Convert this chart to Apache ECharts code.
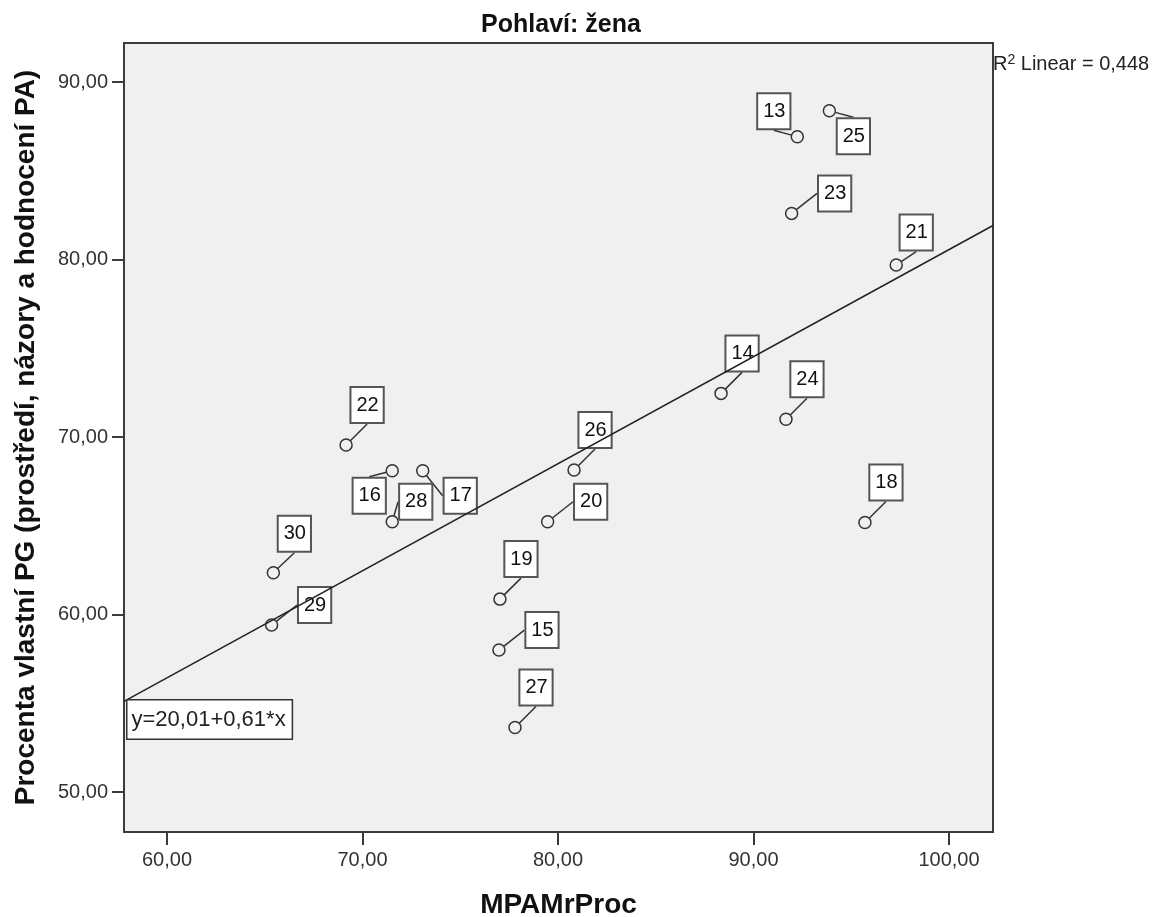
<!DOCTYPE html>
<html lang="cs">
<head>
    <meta charset="UTF-8">
    <title>Pohlaví: žena</title>
    <script src="https://cdn.jsdelivr.net/npm/echarts@6/dist/echarts.min.js"></script>
</head>
<body style="margin:0">
<div id="content" style="width:1172px;height:917px"></div>
<script>
    // case numbers shown in the boxes
    var caseIds = [13, 14, 15, 16, 17, 18, 19, 20, 21, 22, 23, 24, 25, 26, 27, 28, 29, 30];
    // MPAMrProc (x)
    var mpamProc = [92.24, 88.34, 76.98, 71.52, 73.08, 95.70, 77.03, 79.47, 97.30,
                    69.16, 91.95, 91.66, 93.88, 80.82, 77.80, 71.52, 65.35, 65.44];
    // Procenta vlastní PG (y)
    var pgProc = [86.92, 72.46, 58.00, 68.10, 68.10, 65.19, 60.87, 65.23, 79.69,
                  69.55, 82.60, 71.00, 88.38, 68.14, 53.64, 65.23, 59.41, 62.36];
    var xTicks = [60, 70, 80, 90, 100];
    var yTicks = [50, 60, 70, 80, 90];
    // fit line as drawn
    var fitA = 20.26, fitB = 0.603;
    var xMin = 57.8, xMax = 102.25, yMin = 47.75, yMax = 92.2;

    // where each case box sits relative to its point (px)
    var UR = [21, -40], RT = [43, -20];
    var labelShift = {
        13: [-23.5, -25.5], 14: UR, 15: RT, 16: [-23, 25], 17: [37.5, 25], 18: UR,
        19: UR, 20: RT, 21: [20, -32.5], 22: UR, 23: RT, 24: UR, 25: [24, 25.5],
        26: UR, 27: UR, 28: [23.5, -20], 29: RT, 30: [21, -39]
    };

    function fmt(v) { return v.toFixed(2).replace('.', ','); }

    var points = caseIds.map(function (id, i) {
        return { name: String(id), value: [mpamProc[i], pgProc[i]] };
    });
    var fitLine = [[xMin, fitA + fitB * xMin], [xMax, fitA + fitB * xMax]];

    var font = 'Liberation Sans, Arial, sans-serif';
    var myChart = echarts.init(document.getElementById('content'));
    var option = {
        animation: false,
        textStyle: { fontFamily: font },
        title: {
            text: 'Pohlaví: žena',
            left: 556, top: 8, textAlign: 'center',
            textStyle: { fontSize: 25, fontWeight: 'bold', color: '#111', fontFamily: font }
        },
        grid: {
            left: 124, right: 179, top: 43, bottom: 85,
            outerBoundsMode: 'none',
            show: true, backgroundColor: '#f0f0f0', borderColor: '#3c3c3c', borderWidth: 2
        },
        xAxis: {
            type: 'value', min: xMin, max: xMax,
            name: 'MPAMrProc', nameLocation: 'middle', nameGap: 59,
            nameTextStyle: { fontSize: 28, fontWeight: 'bold', color: '#111', fontFamily: font },
            axisLine: { show: true, lineStyle: { color: '#3c3c3c', width: 2 } },
            axisTick: { show: true, length: 13, customValues: xTicks, lineStyle: { color: '#3c3c3c', width: 2 } },
            axisLabel: { customValues: xTicks, formatter: fmt, fontSize: 20, color: '#333', margin: 18 },
            splitLine: { show: false }
        },
        yAxis: {
            type: 'value', min: yMin, max: yMax,
            name: 'Procenta vlastní PG (prostředí, názory a hodnocení PA)',
            nameLocation: 'middle', nameGap: 84,
            nameTextStyle: { fontSize: 28, fontWeight: 'bold', color: '#111', fontFamily: font },
            axisLine: { show: true, lineStyle: { color: '#3c3c3c', width: 2 } },
            axisTick: { show: true, length: 12, customValues: yTicks, lineStyle: { color: '#3c3c3c', width: 2 } },
            axisLabel: { customValues: yTicks, formatter: fmt, fontSize: 20, color: '#333', margin: 16 },
            splitLine: { show: false }
        },
        series: [
            {
                type: 'scatter',
                z: 2,
                data: points,
                symbol: 'circle',
                symbolSize: 12,
                itemStyle: { color: '#f0f0f0', borderColor: '#333', borderWidth: 1.5, opacity: 1 },
                label: {
                    show: true, position: 'inside',
                    formatter: '{b}',
                    fontSize: 20, color: '#111', lineHeight: 20,
                    backgroundColor: '#fff', borderColor: '#555', borderWidth: 2,
                    padding: [7, 4, 7, 5]
                },
                labelLine: { show: true, lineStyle: { color: '#333', width: 1.5 } },
                labelLayout: function (p) {
                    var s = labelShift[caseIds[p.dataIndex]];
                    return { dx: s[0], dy: s[1] };
                },
                emphasis: { disabled: true }
            },
            {
                type: 'line',
                z: 5,
                data: fitLine,
                symbol: 'none',
                lineStyle: { color: '#222', width: 1.5 },
                emphasis: { disabled: true }
            }
        ],
        graphic: [
            {
                type: 'text', left: 126, top: 699, z: 10,
                style: {
                    text: 'y=20,01+0,61*x', font: '22px ' + font, fill: '#222',
                    backgroundColor: '#fff', borderColor: '#333', borderWidth: 1.5,
                    padding: [8, 6, 8, 4]
                }
            },
            {
                type: 'text', left: 993, top: 53, z: 10,
                style: {
                    text: 'R{sup|2} Linear = 0,448', font: '20px ' + font, fill: '#222',
                    rich: { sup: { fontSize: 14, verticalAlign: 'top', padding: [0, 0, 8, 0], fill: '#222' } }
                }
            }
        ]
    };
    myChart.setOption(option);
</script>
</body>
</html>
